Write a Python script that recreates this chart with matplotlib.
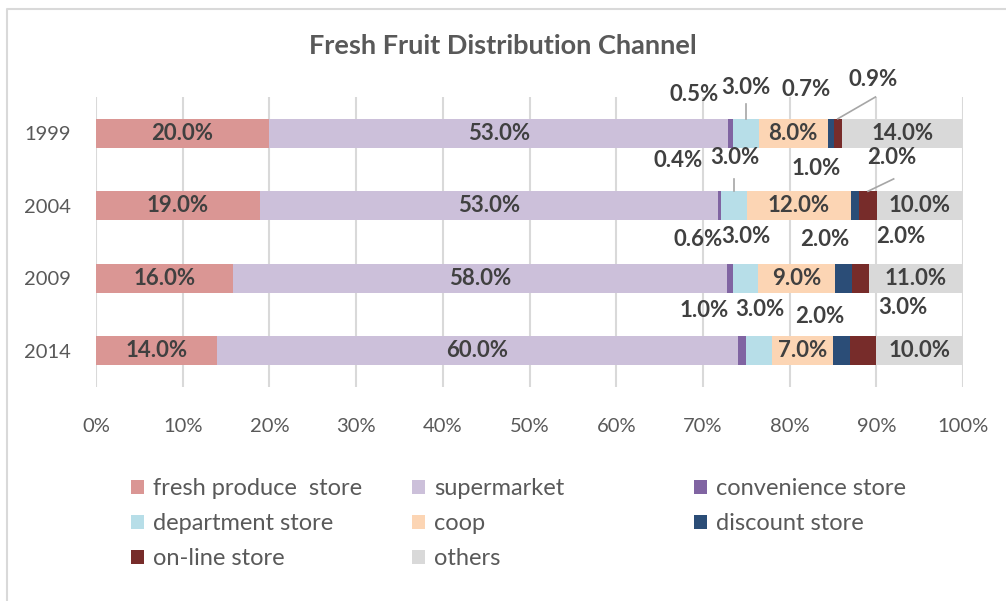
import numpy as np
import matplotlib.pyplot as plt
from matplotlib.lines import Line2D
from matplotlib.patches import Patch

plt.rcParams['font.family'] = ['Lato', 'DejaVu Sans']

# Data
years = ['1999', '2004', '2009', '2014']
channels = ['fresh produce  store', 'supermarket', 'convenience store',
            'department store', 'coop', 'discount store', 'on-line store', 'others']
fresh = [20.0, 19.0, 16.0, 14.0]
supermarket = [53.0, 53.0, 58.0, 60.0]
convenience = [0.5, 0.4, 0.6, 1.0]
department = [3.0, 3.0, 3.0, 3.0]
coop = [8.0, 12.0, 9.0, 7.0]
discount = [0.7, 1.0, 2.0, 2.0]
online = [0.9, 2.0, 2.0, 3.0]
others = [14.0, 10.0, 11.0, 10.0]

colors = ['#DA9694', '#CCC0DA', '#8064A2', '#B7DEE8',
          '#FCD5B4', '#2B4D77', '#772C2A', '#D9D9D9']

series = np.array([fresh, supermarket, convenience, department,
                   coop, discount, online, others])
# 100% stacked, like the original spreadsheet chart
share = series / series.sum(axis=0) * 100

fig = plt.figure(figsize=(10.06, 6.01), dpi=100)
ax = fig.add_axes([96 / 1006, 1 - 387 / 601, 867 / 1006, 290 / 601])

y = np.arange(len(years))
left = np.zeros(len(years))
centers = []
for vals, col in zip(share, colors):
    ax.barh(y, vals, left=left, height=0.4, color=col, zorder=2)
    centers.append(left + vals / 2)
    left = left + vals
centers = np.array(centers)

txt = dict(fontsize=16, fontweight='bold', color='#404040',
           ha='center', va='center')

# labels inside the wide segments
for s in [0, 1, 4, 7]:
    for i in range(len(years)):
        ax.text(centers[s, i], y[i], f'{series[s, i]:.1f}%', zorder=4, **txt)

# labels for the narrow segments, placed above each bar (x in %, dy in rows)
small_pos = {
    2: [(69.0, -0.54), (67.2, -0.62), (69.4, -0.54), (70.2, -0.55)],
    3: [(75.0, -0.63), (73.7, -0.66), (75.0, -0.57), (76.6, -0.57)],
    5: [(81.9, -0.61), (83.1, -0.52), (84.1, -0.54), (83.5, -0.47)],
    6: [(89.6, -0.74), (91.8, -0.66), (92.8, -0.57), (93.1, -0.59)],
}
for s, pos in small_pos.items():
    for i, (px, dy) in enumerate(pos):
        ax.text(px, y[i] + dy, f'{series[s, i]:.1f}%', zorder=4, **txt)

# leader lines
lc = dict(color='#A6A6A6', lw=1.2, zorder=3, clip_on=False)
ax.plot([centers[3, 0], centers[3, 0]], [y[0] - 0.40, y[0] - 0.2], **lc)
ax.plot([89.9, centers[6, 0]], [y[0] - 0.50, y[0] - 0.2], **lc)
ax.plot([centers[3, 1], centers[3, 1]], [y[1] - 0.37, y[1] - 0.2], **lc)
ax.plot([92.0, centers[6, 1]], [y[1] - 0.37, y[1] - 0.2], **lc)

ax.set_xlim(0, 100)
ax.set_ylim(3.5, -0.5)
ax.set_yticks(y)
ax.set_yticklabels(years)
ax.set_xticks(np.arange(0, 101, 10))
ax.set_xticklabels([f'{v}%' for v in range(0, 101, 10)])
ax.tick_params(length=0, labelsize=14.5, colors='#595959')
ax.tick_params(axis='x', pad=22)
ax.tick_params(axis='y', pad=18)
ax.grid(axis='x', color='#D9D9D9', lw=1.5, zorder=0)
for sp in ax.spines.values():
    sp.set_visible(False)

fig.text(0.5, 1 - 46 / 601, 'Fresh Fruit Distribution Channel', ha='center',
         va='center', fontsize=19.5, fontweight='bold', color='#595959')

# legend, three fixed columns filled row by row
handles = [Patch(facecolor=c, edgecolor='none') for c in colors]
cols = [[0, 3, 6], [1, 4, 7], [2, 5]]
col_x = [131, 412, 694]
for idx, cx in zip(cols, col_x):
    leg = fig.legend([handles[k] for k in idx], [channels[k] for k in idx],
                     loc='upper left', bbox_to_anchor=(cx / 1006, 1 - 478 / 601),
                     frameon=False, fontsize=17, handlelength=0.55,
                     handleheight=0.55, handletextpad=0.4, labelspacing=0.6,
                     borderaxespad=0, borderpad=0)
    for t in leg.get_texts():
        t.set_color('#595959')

# chart border (top and left edges visible)
fig.add_artist(Line2D([7 / 1006, 7 / 1006, 1], [0, 1 - 8.5 / 601, 1 - 8.5 / 601],
                      transform=fig.transFigure, color='#D9D9D9', lw=1.5))

fig.savefig('out.png', dpi=100)
